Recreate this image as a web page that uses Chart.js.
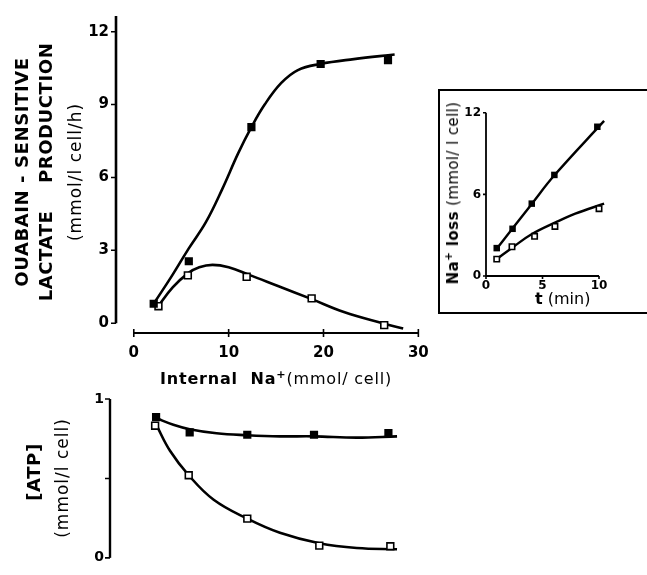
<!DOCTYPE html>
<html>
<head>
<meta charset="utf-8">
<script src="https://cdn.jsdelivr.net/npm/chart.js@4.4.1/dist/chart.umd.min.js"></script>
<style>
  html, body { margin: 0; padding: 0; background: #fff; }
  #page { position: relative; width: 647px; height: 575px; overflow: hidden;
          font-family: "DejaVu Sans", sans-serif; color: #000; }
  canvas { position: absolute; }
  .rot { position: absolute; white-space: pre; transform: translate(-50%, -50%) rotate(-90deg); }
  .txt { position: absolute; white-space: pre; }
  .b { font-weight: bold; }
  sup { font-size: 70%; vertical-align: 0.55em; line-height: 0; }
  #frame { position: absolute; left: 438px; top: 89px; width: 210px; height: 221px;
           border: 2px solid #000; }
</style>
</head>
<body>
<div id="page">
  <div id="frame"></div>
  <canvas id="lactateChart" width="440" height="370" style="left:0;top:0"></canvas>
  <canvas id="atpChart" width="440" height="195" style="left:0;top:380px"></canvas>
  <canvas id="lossChart" width="206" height="222" style="left:438px;top:89px"></canvas>

  <div class="rot b" style="left:21px;top:172px;font-size:18px;letter-spacing:0.6px">OUABAIN - SENSITIVE</div>
  <div class="rot b" style="left:45px;top:172px;font-size:18px;letter-spacing:0.6px">LACTATE    PRODUCTION</div>
  <div class="rot" style="left:75px;top:172px;font-size:17px;letter-spacing:1px">(mmol/l cell/h)</div>
  <div class="txt" style="left:160px;top:369px;font-size:16px;letter-spacing:0.8px"><span class="b">Internal  Na<sup>+</sup></span>(mmol/ cell)</div>

  <div class="rot b" style="left:33px;top:472px;font-size:18px;letter-spacing:0.6px">[ATP]</div>
  <div class="rot" style="left:62px;top:478px;font-size:17px;letter-spacing:1px">(mmol/l cell)</div>

  <div class="rot" style="left:453px;top:193px;font-size:15px;letter-spacing:0.4px"><span class="b">Na<sup>+</sup> loss</span> (mmol/ l cell)</div>
  <div class="txt" style="left:535px;top:289px;font-size:16px"><span class="b">t</span> (min)</div>
</div>

<script>
// ---- Lactate production vs internal Na+ (top panel) ----
const lacFilledX = [2.1, 5.8, 12.4, 19.7, 26.8];
const lacFilledY = [0.8, 2.55, 8.07, 10.67, 10.83];
const lacOpenX = [2.6, 5.7, 11.9, 18.75, 26.4];
const lacOpenY = [0.7, 1.97, 1.91, 1.02, -0.08];
const lacFilledCurveX = [2.2, 4.1, 5.8, 7.6, 9.3, 11.0, 12.4, 13.8, 15.55, 17.3, 19.65, 23.2, 27.5];
const lacFilledCurveY = [0.86, 2.0, 3.08, 4.16, 5.5, 6.99, 8.07, 9.0, 9.89, 10.42, 10.67, 10.87, 11.06];
const lacOpenCurveX = [2.5, 4.1, 5.7, 6.9, 8.3, 10.0, 12.1, 15.2, 18.7, 22.15, 26.3, 28.4];
const lacOpenCurveY = [0.66, 1.47, 2.05, 2.3, 2.4, 2.3, 2.0, 1.53, 1.0, 0.46, -0.01, -0.22];
const lacXTicks = [0, 10, 20, 30];
const lacYTicks = [0, 3, 6, 9, 12];

// ---- ATP vs internal Na+ (bottom panel) ----
const atpFilledX = [2.3, 5.8, 11.8, 18.75, 26.5];
const atpFilledY = [0.886, 0.79, 0.775, 0.775, 0.786];
const atpOpenX = [2.2, 5.7, 11.8, 19.3, 26.7];
const atpOpenY = [0.832, 0.52, 0.247, 0.077, 0.073];
const atpFilledCurveX = [2.3, 4.1, 5.8, 8.6, 11.8, 15.2, 18.75, 23.2, 27.4];
const atpFilledCurveY = [0.88, 0.838, 0.81, 0.784, 0.772, 0.765, 0.765, 0.757, 0.765];
const atpOpenCurveX = [2.3, 3.75, 5.7, 8.3, 11.8, 15.2, 19.3, 23.2, 27.4];
const atpOpenCurveY = [0.84, 0.674, 0.52, 0.366, 0.247, 0.158, 0.092, 0.062, 0.054];
const atpYTicks = [0, 0.5, 1];
const atpYLabels = ['0', '', '1'];

// ---- Inset: Na+ loss vs time ----
const lossFilledT = [0.95, 2.35, 4.05, 6.05, 9.85];
const lossFilledY = [2.05, 3.47, 5.32, 7.43, 10.97];
const lossOpenT = [0.95, 2.3, 4.3, 6.1, 10.0];
const lossOpenY = [1.24, 2.15, 2.92, 3.64, 4.95];
const lossFilledCurveT = [0.95, 4.05, 6.05, 10.45];
const lossFilledCurveY = [2.0, 5.3, 7.4, 11.4];
const lossOpenCurveT = [0.95, 2.35, 4.1, 6.2, 7.9, 10.45];
const lossOpenCurveY = [1.24, 2.1, 3.1, 3.96, 4.58, 5.32];
const lossXTicks = [0, 5, 10];
const lossYTicks = [0, 6, 12];

function pts(xs, ys) {
  return xs.map((x, i) => ({ x: x, y: ys[i] }));
}

function markers(xs, ys, filled, r) {
  return {
    data: pts(xs, ys),
    showLine: false,
    pointStyle: 'rect',
    pointRadius: filled ? r : r - 0.8,
    pointBackgroundColor: filled ? '#000' : '#fff',
    pointBorderColor: '#000',
    pointBorderWidth: filled ? 0 : 1.6,
  };
}

function curve(xs, ys, w) {
  return {
    data: pts(xs, ys),
    showLine: true,
    borderColor: '#000',
    borderWidth: w,
    pointRadius: 0,
    tension: 0.4,
    fill: false,
  };
}

// axis lines and tick marks, drawn through the chart's own scales
function axisPlugin(cfg) {
  return {
    id: 'axisLines',
    afterDatasetsDraw(chart) {
      const { ctx, chartArea } = chart;
      const x = chart.scales.x, y = chart.scales.y;
      ctx.save();
      ctx.strokeStyle = '#000';
      if (cfg.y) {
        const X = chartArea.left;
        ctx.lineWidth = cfg.y.width;
        ctx.beginPath();
        ctx.moveTo(X, y.getPixelForValue(cfg.y.from));
        ctx.lineTo(X, y.getPixelForValue(cfg.y.to));
        ctx.stroke();
        ctx.lineWidth = 1.6;
        ctx.beginPath();
        cfg.y.ticks.forEach(v => {
          const Y = y.getPixelForValue(v);
          ctx.moveTo(X - cfg.y.len, Y);
          ctx.lineTo(X, Y);
        });
        ctx.stroke();
      }
      if (cfg.x) {
        const Y = chartArea.bottom;
        ctx.lineWidth = cfg.x.width;
        ctx.beginPath();
        ctx.moveTo(x.getPixelForValue(cfg.x.from), Y);
        ctx.lineTo(x.getPixelForValue(cfg.x.to), Y);
        ctx.stroke();
        ctx.lineWidth = 1.6;
        ctx.beginPath();
        cfg.x.ticks.forEach(v => {
          const X = x.getPixelForValue(v);
          ctx.moveTo(X, Y - cfg.x.up);
          ctx.lineTo(X, Y + cfg.x.down);
        });
        ctx.stroke();
      }
      ctx.restore();
    }
  };
}

function scale(min, max, ticks, labels, font, pad, size, horizontal, show) {
  return {
    type: 'linear',
    display: show,
    min: min,
    max: max,
    grid: { display: false, drawTicks: false },
    border: { display: false },
    afterBuildTicks: s => { s.ticks = ticks.map(v => ({ value: v })); },
    afterFit: s => { if (horizontal) s.height = size; else s.width = size; },
    ticks: {
      color: '#000',
      font: font,
      padding: pad,
      autoSkip: false,
      maxRotation: 0,
      callback: (v, i) => labels ? labels[i] : String(v),
    },
  };
}

function makeChart(id, datasets, scales, padding, axisCfg) {
  return new Chart(document.getElementById(id), {
    type: 'scatter',
    data: { datasets: datasets },
    options: {
      responsive: false,
      animation: false,
      devicePixelRatio: 1,
      layout: { padding: padding },
      plugins: { legend: { display: false }, tooltip: { enabled: false } },
      scales: scales,
    },
    plugins: [axisPlugin(axisCfg)],
  });
}

const boldFont = size => ({ family: 'DejaVu Sans', weight: 'bold', size: size });

// top panel: y axis at x=116, x=0 at 134 (9.6 px/unit), y 0 at 323, 12 at 26
makeChart('lactateChart', [
  markers(lacFilledX, lacFilledY, true, 5.8),
  markers(lacOpenX, lacOpenY, false, 5.6),
  curve(lacFilledCurveX, lacFilledCurveY, 2.6),
  curve(lacOpenCurveX, lacOpenCurveY, 2.6),
], {
  x: scale(-1.875, 30.52, lacXTicks, null, boldFont(15), 11, 37, true, true),
  y: scale(-0.404, 12.646, lacYTicks, null, boldFont(15), 7, 116, false, true),
}, { top: 10, right: 13, left: 0, bottom: 0 }, {
  y: { from: 0, to: 12.646, ticks: lacYTicks, len: 5, width: 2.6 },
  x: { from: 0, to: 30, ticks: lacXTicks, up: 4, down: 4, width: 2.2 },
});

// bottom panel: y axis at x=110, same x mapping, y 0 at 570, 1 at 397
makeChart('atpChart', [
  markers(atpFilledX, atpFilledY, true, 5.8),
  markers(atpOpenX, atpOpenY, false, 5.6),
  curve(atpFilledCurveX, atpFilledCurveY, 2.6),
  curve(atpOpenCurveX, atpOpenCurveY, 2.6),
], {
  x: scale(-2.5, 30.52, [], null, boldFont(14), 0, 0, true, false),
  y: scale(-0.0173, 1.029, atpYTicks, atpYLabels, boldFont(14), 6, 110, false, true),
}, { top: 12, right: 13, left: 0, bottom: 2 }, {
  y: { from: 0, to: 1, ticks: atpYTicks, len: 5, width: 2.4 },
});

// inset: y axis at x=486, x 0..10 -> 486..599, y 0 at 276, 12 at 113
makeChart('lossChart', [
  markers(lossFilledT, lossFilledY, true, 4.6),
  markers(lossOpenT, lossOpenY, false, 4.6),
  curve(lossFilledCurveT, lossFilledCurveY, 2.4),
  curve(lossOpenCurveT, lossOpenCurveY, 2.4),
], {
  x: scale(0, 11.06, lossXTicks, null, boldFont(12), 3, 35, true, true),
  y: scale(0, 12.57, lossYTicks, null, boldFont(12), 5, 48, false, true),
}, { top: 16, right: 33, left: 0, bottom: 0 }, {
  y: { from: 0, to: 12, ticks: lossYTicks, len: 3, width: 1.8 },
  x: { from: 0, to: 10, ticks: lossXTicks, up: 0, down: 3, width: 1.8 },
});
</script>
</body>
</html>
